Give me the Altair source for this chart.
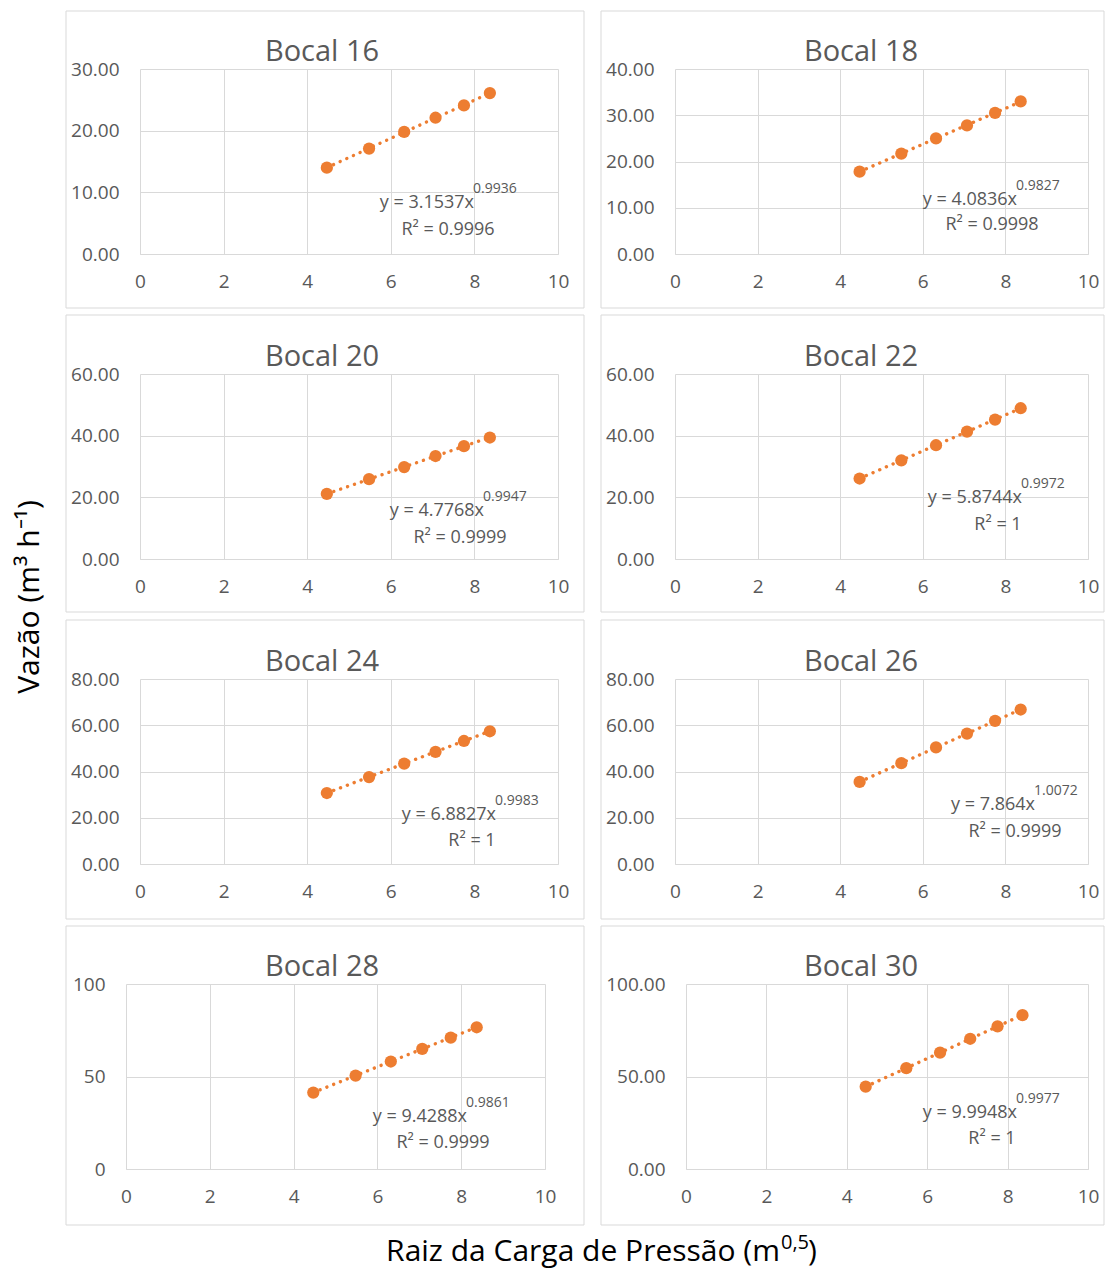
import altair as alt
import pandas as pd

# ---------------- data ----------------
x_raiz = [4.47, 5.48, 6.32, 7.07, 7.75, 8.37]

bocais = ["Bocal 16", "Bocal 18", "Bocal 20", "Bocal 22",
          "Bocal 24", "Bocal 26", "Bocal 28", "Bocal 30"]

q16 = [14.0, 17.1, 19.8, 22.1, 24.1, 26.1]
q18 = [17.8, 21.7, 25.0, 27.8, 30.5, 33.0]
q20 = [21.1, 25.9, 29.8, 33.4, 36.6, 39.4]
q22 = [26.1, 32.0, 36.9, 41.3, 45.2, 48.9]
q24 = [30.7, 37.6, 43.4, 48.5, 53.2, 57.4]
q26 = [35.5, 43.6, 50.4, 56.4, 61.9, 66.8]
q28 = [41.3, 50.5, 58.1, 64.9, 71.0, 76.6]
q30 = [44.5, 54.5, 62.9, 70.4, 77.1, 83.2]
series = [q16, q18, q20, q22, q24, q26, q28, q30]

coef = ["3.1537", "4.0836", "4.7768", "5.8744", "6.8827", "7.864", "9.4288", "9.9948"]
expo = ["0.9936", "0.9827", "0.9947", "0.9972", "0.9983", "1.0072", "0.9861", "0.9977"]
r2 = ["0.9996", "0.9998", "0.9999", "1", "1", "0.9999", "0.9999", "1"]

y_max = [30, 40, 60, 60, 80, 80, 100, 100]
y_step = [10, 10, 20, 20, 20, 20, 50, 50]
y_fmt = [".2f", ".2f", ".2f", ".2f", ".2f", ".2f", "d", ".2f"]
x_ticks = [0, 2, 4, 6, 8, 10]

y_title = "Vazão (m³ h⁻¹)"
x_title_main = "Raiz da Carga de Pressão (m"
x_title_sup = "0,5"
x_title_end = ")"

# ---------------- layout / style ----------------
ORANGE = "#ED7D31"
GRID = "#d9d9d9"
TXT = "#595959"
FONT = "Open Sans"
H = 185
W_COL = [418, 413]

# x pixel range of the plot inside each view, y-label padding
x_range = [(0, 418), (0, 413), (0, 418), (0, 413), (0, 418), (0, 413), (-14, 405), (11, 413)]
lab_pad = [21, 21, 21, 21, 21, 21, 35, 10]
# box edges relative to view origin: left, right, top, bottom
box = [(-74, 444, -58, 239), (-74, 429, -58, 239),
       (-74, 444, -59, 238), (-74, 429, -59, 238),
       (-74, 444, -59, 240), (-74, 429, -59, 240),
       (-74, 444, -58, 241), (-74, 429, -58, 241)]
title_x = [182, 186, 182, 186, 182, 186, 182, 186]
# eq split x, eq baseline, r2 centre x, r2 baseline
eqpos = [(334, 139, 308, 166), (342, 136, 317, 161),
         (344, 142, 320, 169), (347, 129, 323, 156),
         (356, 141, 332, 167), (360, 131, 340, 158),
         (327, 138, 303, 164), (342, 134, 317, 160)]

one = pd.DataFrame({"k": [0]})


def txt(s, x, y, size, align="center", color=TXT, baseline="alphabetic", angle=0):
    m = dict(font=FONT, fontSize=size, color=color, align=align, baseline=baseline)
    if angle:
        m["angle"] = angle
    return alt.Chart(one).mark_text(**m).encode(
        x=alt.value(x), y=alt.value(y), text=alt.value(s))


def panel(i):
    col = i % 2
    W = W_COL[col]
    bl, br, bt, bb = box[i]
    split, eqb, r2c, r2b = eqpos[i]
    df = pd.DataFrame({"x": x_raiz, "y": series[i]})
    xs = alt.Scale(domain=[0, 10], nice=False, zero=False, range=list(x_range[i]))
    ys = alt.Scale(domain=[0, y_max[i]], nice=False)
    xax = alt.Axis(values=x_ticks, format="d", title=None, labelFlush=False,
                   grid=True, domain=True, ticks=False, labelPadding=18)
    yax = alt.Axis(values=list(range(0, y_max[i] + 1, y_step[i])), format=y_fmt[i],
                   title=None, labelFlush=False, grid=True, domain=False,
                   ticks=False, labelPadding=lab_pad[i])
    enc = dict(x=alt.X("x:Q", scale=xs, axis=xax), y=alt.Y("y:Q", scale=ys, axis=yax))

    frame = alt.Chart(one).mark_rect(fillOpacity=0, stroke=GRID, strokeWidth=1).encode(
        x=alt.value(bl), x2=alt.value(br), y=alt.value(bt), y2=alt.value(bb))
    trend = alt.Chart(df).transform_regression("x", "y", method="pow").mark_line(
        color=ORANGE, strokeWidth=3.4, strokeDash=[0.1, 7.2], strokeCap="round"
    ).encode(**enc)
    pts = alt.Chart(df).mark_circle(size=150, color=ORANGE, opacity=1).encode(**enc)
    layers = [frame, trend, pts,
              txt(bocais[i], title_x[i], -8, 29),
              txt("y = " + coef[i] + "x", split, eqb, 18, align="right"),
              txt(expo[i], split - 1, eqb - 15, 14, align="left"),
              txt("R² = " + r2[i], r2c, r2b, 18)]
    if i == 0:
        # page-sized invisible frame and the vertical axis title
        page = alt.Chart(one).mark_rect(fillOpacity=0, strokeOpacity=0).encode(
            x=alt.value(-132), x2=alt.value(965), y=alt.value(-61), y2=alt.value(1201))
        layers = [page] + layers + [txt(y_title, -110, 528, 30, color="black",
                                        baseline="middle", angle=270)]
    if i == 6:
        layers += [txt(x_title_main, 640, 277, 30, align="right", color="black"),
                   txt(x_title_sup, 641, 265, 20, align="left", color="black"),
                   txt(x_title_end, 668, 277, 30, align="left", color="black")]
    return alt.layer(*layers).properties(width=W, height=H)


chart = alt.concat(*[panel(i) for i in range(8)], columns=2, bounds="flush",
                   spacing={"row": 120, "column": 117}).properties(
    padding=0, background="white",
).configure(font=FONT).configure_view(strokeWidth=0).configure_axis(
    gridColor=GRID, gridWidth=1, domainColor=GRID, domainWidth=1,
    labelColor=TXT, labelFont=FONT, labelFontSize=19,
)

chart.save("out.html", embed_options={"renderer": "svg", "actions": False})
